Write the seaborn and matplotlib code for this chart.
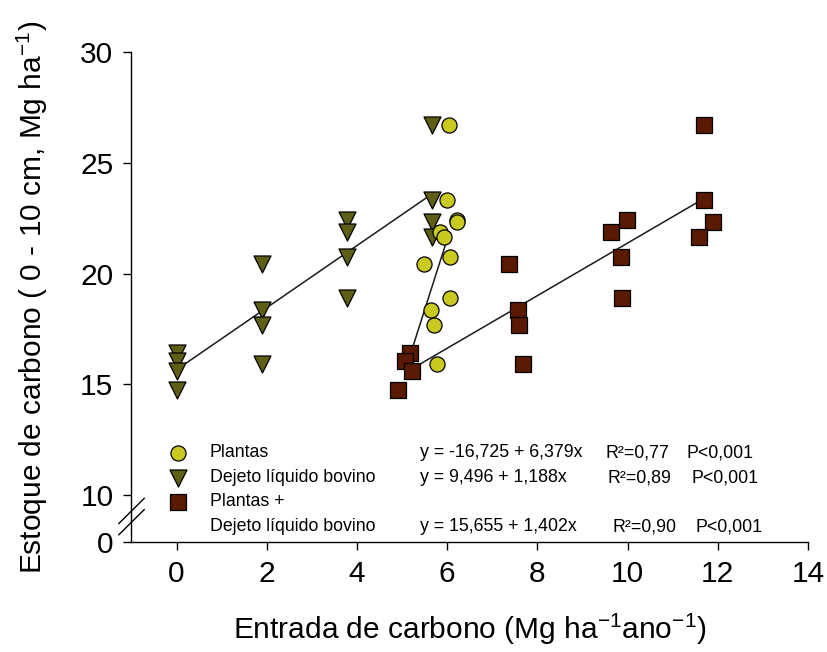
import numpy as np
import pandas as pd
import matplotlib
matplotlib.use("Agg")
import matplotlib.pyplot as plt
import seaborn as sns

# ---------------- data ----------------
grupo = ["A"] * 4 + ["B"] * 4 + ["C"] * 4 + ["D"] * 4
estoque = [16.40, 16.06, 15.60, 14.76,
           20.42, 18.37, 17.69, 15.92,
           22.42, 21.87, 20.76, 18.90,
           26.70, 23.32, 22.34, 21.66]
entrada_plantas = [5.18, 5.07, 5.22, 4.92,
                   5.48, 5.65, 5.70, 5.78,
                   6.21, 5.85, 6.06, 6.07,
                   6.04, 6.00, 6.22, 5.94]
entrada_dejeto = [0.00, 0.00, 0.00, 0.00,
                  1.89, 1.89, 1.89, 1.89,
                  3.78, 3.78, 3.78, 3.78,
                  5.67, 5.67, 5.67, 5.67]
entrada_ambos = [5.18, 5.07, 5.22, 4.92,
                 7.37, 7.56, 7.59, 7.68,
                 9.98, 9.63, 9.85, 9.87,
                 11.70, 11.69, 11.90, 11.59]

series = ["Plantas", "Dejeto líquido bovino", "Plantas +\nDejeto líquido bovino"]
# fitted line drawn through each series (intercept, slope)
line_intercept = [-16.725, 15.655, 9.496]
line_slope = [6.379, 1.402, 1.188]
# text printed in the legend block
eq_text = ["y = -16,725 + 6,379x", "y = 9,496 + 1,188x", "y = 15,655 + 1,402x"]
r2_text = ["R²=0,77", "R²=0,89", "R²=0,90"]
p_text = ["P<0,001", "P<0,001", "P<0,001"]

x_ticks = [0, 2, 4, 6, 8, 10, 12, 14]
y_ticks = [10, 15, 20, 25, 30]

# ---------------- styling ----------------
sns.set_style("ticks")
plt.rcParams["font.family"] = ["Liberation Sans", "DejaVu Sans"]
plt.rcParams["mathtext.fontset"] = "custom"
plt.rcParams["mathtext.rm"] = "Liberation Sans"
plt.rcParams["text.color"] = "black"
plt.rcParams["axes.labelcolor"] = "black"

colors = {series[0]: "#c9c91f", series[1]: "#5e5e14", series[2]: "#5a1a02"}
markers = {series[0]: "o", series[1]: "v", series[2]: "s"}
sizes = {series[0]: 118, series[1]: 150, series[2]: 118}

df = pd.concat([
    pd.DataFrame({"serie": series[0], "grupo": grupo, "x": entrada_plantas, "y": estoque}),
    pd.DataFrame({"serie": series[1], "grupo": grupo, "x": entrada_dejeto, "y": estoque}),
    pd.DataFrame({"serie": series[2], "grupo": grupo, "x": entrada_ambos, "y": estoque}),
], ignore_index=True)

fig = plt.figure(figsize=(8.27, 6.52), dpi=100)
ax = fig.add_axes([0.159, 0.169, 0.818, 0.751])

ymin = 7.88
ax.set_xlim(-1.0, 14.0)
ax.set_ylim(ymin, 30)

# regression lines, spanning the group-mean range of each series
for s, a, b in zip(series, line_intercept, line_slope):
    gm = df[df.serie == s].groupby("grupo")["x"].mean()
    xs = np.array([gm.min(), gm.max()])
    sns.lineplot(x=xs, y=a + b * xs, color="#1a1a1a", linewidth=1.1, ax=ax,
                 zorder=2, legend=False)

# points: triangles, then circles, then squares on top
for s in [series[1], series[0], series[2]]:
    sub = df[df.serie == s]
    sns.scatterplot(data=sub, x="x", y="y", marker=markers[s], s=sizes[s],
                    color=colors[s], edgecolor="black", linewidth=0.9,
                    ax=ax, zorder=3, legend=False)

# axes
sns.despine(ax=ax)
ax.set_xticks(x_ticks)
ax.set_xticklabels([str(t) for t in x_ticks])
ax.set_yticks([ymin] + y_ticks)
ax.set_yticklabels(["0"] + [str(t) for t in y_ticks])
ax.tick_params(axis="both", direction="out", length=6, width=1.0,
               labelsize=21.5, color="black", labelcolor="black", pad=7)
for sp in ["left", "bottom"]:
    ax.spines[sp].set_linewidth(1.0)
    ax.spines[sp].set_color("black")

ax.set_xlabel("Entrada de carbono (Mg ha$^{-1}$ano$^{-1}$)", fontsize=21.5, labelpad=17)
ax.set_ylabel("Estoque de carbono ( 0 - 10 cm, Mg ha$^{-1}$)", fontsize=21.5, labelpad=22)

# axis break marks on the y axis
for yc in [0.063, 0.040]:
    ax.plot([-0.019, 0.019], [yc - 0.026, yc + 0.026], transform=ax.transAxes,
            color="black", linewidth=1.0, clip_on=False, zorder=5)

# legend block
row_y = [0.182, 0.131, 0.082, 0.031]
fs = 12.8
label_rows = [[series[0]], [series[1]], series[2].split("\n")]
marker_row = [0, 1, 2]
eq_row = [0, 1, 3]
r2_x = [0.700, 0.704, 0.711]
p_x = [0.821, 0.828, 0.834]
for i, s in enumerate(series):
    ax.scatter([0.0685], [row_y[marker_row[i]]], marker=markers[s], s=sizes[s],
               color=colors[s], edgecolor="black", linewidth=0.9,
               transform=ax.transAxes, clip_on=False, zorder=4)
    for j, line in enumerate(label_rows[i]):
        ax.text(0.116, row_y[marker_row[i] + j], line, transform=ax.transAxes,
                fontsize=fs, va="center", ha="left")
    ax.text(0.426, row_y[eq_row[i]], eq_text[i], transform=ax.transAxes,
            fontsize=fs, va="center", ha="left")
    ax.text(r2_x[i], row_y[eq_row[i]], r2_text[i], transform=ax.transAxes,
            fontsize=fs, va="center", ha="left")
    ax.text(p_x[i], row_y[eq_row[i]], p_text[i], transform=ax.transAxes,
            fontsize=fs, va="center", ha="left")

fig.savefig("out.png", dpi=100)
